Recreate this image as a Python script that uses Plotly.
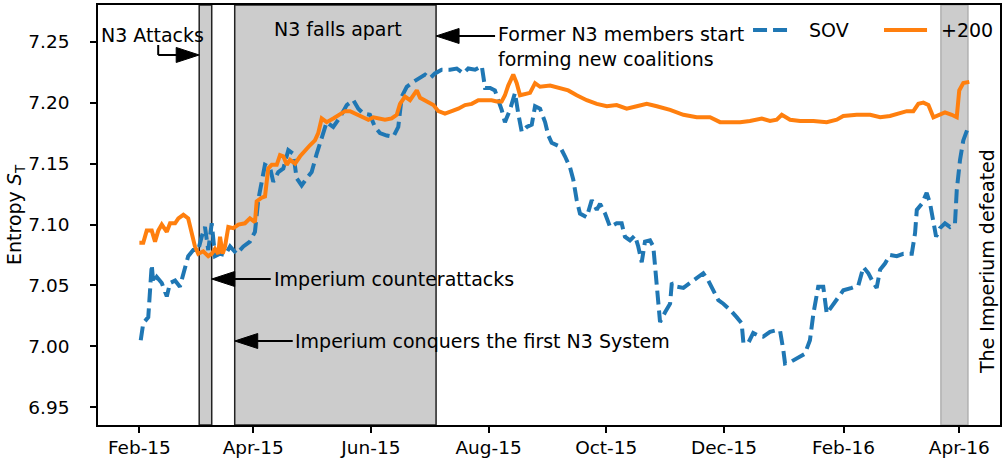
import pandas as pd
import plotly.graph_objects as go

# dates are stored as days after 1 Feb 2015
start = pd.Timestamp("2015-02-01")

sov_days = [0.7, 2.0, 4.6, 6.4, 7.2, 9.0, 11.6, 14.2, 15.9, 18.5,
            21.0, 22.8, 25.3, 27.9, 30.5, 32.3, 34.0, 35.7, 37.5, 39.2,
            41.8, 44.4, 47.0, 50.4, 53.9, 57.3, 59.9, 61.6, 63.4, 65.1,
            67.7, 69.4, 72.0, 74.6, 77.2, 79.8, 81.5, 84.1, 86.7, 89.3,
            91.9, 94.5, 97.1, 100.5, 104.0, 107.5, 110.9, 113.5, 116.1, 119.5,
            122.1, 124.7, 128.2, 131.6, 134.2, 136.0, 138.6, 142.0, 145.5, 148.1,
            150.6, 153.2, 156.7, 161.0, 164.5, 167.9, 170.5, 174.0, 177.5, 179.2,
            181.8, 184.3, 187.8, 189.5, 192.1, 194.7, 196.4, 198.2, 200.8, 203.4,
            205.1, 207.7, 210.3, 212.0, 213.7, 218.0, 220.6, 223.2, 224.9, 226.7,
            228.4, 231.9, 234.5, 237.1, 238.8, 241.4, 244.0, 247.4, 250.0, 251.7,
            254.3, 256.9, 258.6, 260.4, 262.1, 264.7, 266.4, 268.2, 269.0, 269.9,
            272.5, 275.1, 276.0, 278.5, 282.0, 285.4, 288.9, 292.3, 294.9, 297.5,
            300.1, 302.7, 306.2, 309.6, 312.2, 313.1, 315.7, 318.2, 320.8, 323.4,
            326.9, 329.5, 332.1, 333.8, 334.7, 337.3, 340.7, 345.0, 347.6, 349.4,
            351.9, 354.5, 356.3, 358.9, 361.5, 364.9, 369.3, 372.7, 375.3, 377.9,
            380.5, 382.2, 384.0, 386.5, 389.1, 392.6, 396.0, 400.4, 402.1, 403.0,
            405.6, 408.1, 409.9, 411.6, 413.0, 415.0, 417.6, 420.2, 422.8, 423.7,
            425.4, 427.1, 429.2]
sov_vals = [7.005, 7.019, 7.024, 7.067, 7.052, 7.057, 7.052, 7.041, 7.052, 7.054,
            7.049, 7.060, 7.074, 7.079, 7.079, 7.090, 7.098, 7.079, 7.101, 7.074,
            7.076, 7.075, 7.082, 7.076, 7.082, 7.086, 7.094, 7.120, 7.137, 7.149,
            7.147, 7.135, 7.143, 7.146, 7.161, 7.158, 7.138, 7.132, 7.138, 7.143,
            7.158, 7.172, 7.184, 7.180, 7.188, 7.198, 7.202, 7.195, 7.191, 7.190,
            7.180, 7.175, 7.173, 7.172, 7.180, 7.205, 7.213, 7.217, 7.221, 7.223,
            7.220, 7.224, 7.227, 7.227, 7.228, 7.224, 7.228, 7.227, 7.230, 7.212,
            7.212, 7.210, 7.194, 7.184, 7.194, 7.208, 7.191, 7.176, 7.180, 7.182,
            7.197, 7.195, 7.184, 7.173, 7.167, 7.164, 7.156, 7.147, 7.137, 7.120,
            7.109, 7.106, 7.120, 7.112, 7.117, 7.109, 7.098, 7.101, 7.101, 7.090,
            7.087, 7.091, 7.082, 7.069, 7.086, 7.087, 7.082, 7.052, 7.042, 7.020,
            7.028, 7.035, 7.052, 7.049, 7.048, 7.052, 7.057, 7.060, 7.054, 7.046,
            7.038, 7.035, 7.030, 7.024, 7.019, 7.003, 7.003, 7.011, 7.009, 7.008,
            7.012, 7.013, 7.013, 6.997, 6.986, 6.987, 6.990, 6.994, 7.005, 7.027,
            7.049, 7.049, 7.027, 7.033, 7.038, 7.046, 7.048, 7.050, 7.065, 7.060,
            7.052, 7.048, 7.063, 7.068, 7.075, 7.074, 7.076, 7.076, 7.093, 7.112,
            7.117, 7.126, 7.117, 7.101, 7.090, 7.097, 7.101, 7.098, 7.101, 7.128,
            7.153, 7.169, 7.178]

p200_days = [0.0, 2.0, 3.8, 6.4, 8.1, 9.8, 11.6, 14.2, 15.9, 18.5,
             20.2, 22.8, 25.3, 27.1, 28.8, 30.5, 33.1, 35.7, 37.5, 39.2,
             40.9, 41.8, 43.2, 44.4, 46.1, 48.7, 51.3, 54.7, 57.3, 59.9,
             60.8, 63.4, 65.1, 66.8, 68.6, 71.2, 72.9, 74.6, 76.4, 78.1,
             80.7, 83.3, 85.8, 88.4, 91.0, 92.7, 94.5, 97.1, 100.5, 104.0,
             106.6, 109.2, 111.8, 115.2, 118.7, 121.3, 123.8, 127.3, 130.8, 133.4,
             135.1, 137.7, 140.3, 142.0, 143.8, 145.5, 148.9, 152.4, 155.0, 158.4,
             161.9, 165.3, 168.8, 172.3, 175.7, 179.2, 182.6, 185.2, 187.8, 189.5,
             191.2, 193.8, 195.6, 197.3, 202.5, 205.1, 207.7, 212.9, 218.0, 222.3,
             226.7, 231.9, 237.1, 242.3, 247.4, 252.6, 257.8, 263.0, 268.2, 275.1,
             282.0, 288.9, 295.8, 301.0, 306.2, 311.4, 316.5, 322.6, 326.9, 330.4,
             333.0, 337.3, 342.5, 349.4, 356.3, 361.5, 364.9, 371.9, 378.8, 384.0,
             389.1, 394.3, 397.8, 401.2, 403.8, 406.4, 409.0, 411.6, 414.2, 417.6,
             421.1, 423.7, 425.0, 427.1, 430.2]
p200_vals = [7.085, 7.085, 7.095, 7.095, 7.086, 7.095, 7.100, 7.094, 7.101, 7.101,
             7.105, 7.108, 7.105, 7.094, 7.082, 7.076, 7.078, 7.074, 7.076, 7.080,
             7.076, 7.090, 7.076, 7.082, 7.098, 7.097, 7.100, 7.101, 7.105, 7.102,
             7.119, 7.122, 7.123, 7.146, 7.149, 7.149, 7.157, 7.156, 7.149, 7.153,
             7.150, 7.156, 7.161, 7.165, 7.169, 7.175, 7.187, 7.184, 7.187, 7.190,
             7.193, 7.193, 7.191, 7.188, 7.186, 7.188, 7.187, 7.186, 7.187, 7.190,
             7.199, 7.205, 7.202, 7.206, 7.210, 7.204, 7.201, 7.198, 7.193, 7.191,
             7.193, 7.195, 7.198, 7.199, 7.202, 7.202, 7.202, 7.201, 7.201, 7.206,
             7.214, 7.223, 7.216, 7.206, 7.208, 7.216, 7.213, 7.214, 7.212, 7.210,
             7.206, 7.202, 7.199, 7.197, 7.198, 7.195, 7.197, 7.199, 7.197, 7.194,
             7.190, 7.188, 7.188, 7.184, 7.184, 7.184, 7.185, 7.187, 7.185, 7.186,
             7.190, 7.186, 7.185, 7.185, 7.184, 7.186, 7.189, 7.190, 7.190, 7.188,
             7.189, 7.191, 7.193, 7.193, 7.199, 7.200, 7.198, 7.188, 7.190, 7.192,
             7.190, 7.188, 7.210, 7.216, 7.217]

tick_dates = ["2015-02-01", "2015-04-01", "2015-06-01", "2015-08-01",
              "2015-10-01", "2015-12-01", "2016-02-01", "2016-04-01"]
tick_text = ["Feb-15", "Apr-15", "Jun-15", "Aug-15", "Oct-15", "Dec-15", "Feb-16", "Apr-16"]

# shaded periods: (start, end, edge colour)
periods = [("2015-03-04", "2015-03-10 12:00", "#222222"),
           ("2015-03-22 10:00", "2015-07-04 19:00", "#222222"),
           ("2016-03-22 12:00", "2016-04-05 12:00", "#b0b0b0")]

FONT = "DejaVu Sans"
SOV_LINE = dict(color="#1f77b4", width=4, dash="14px,6px")
P200_LINE = dict(color="#ff7f0e", width=4)

sov_dates = start + pd.to_timedelta(sov_days, unit="D")
p200_dates = start + pd.to_timedelta(p200_days, unit="D")

fig = go.Figure()
fig.add_trace(go.Scatter(x=sov_dates, y=sov_vals, mode="lines", name="SOV",
                         line=SOV_LINE, showlegend=False))
fig.add_trace(go.Scatter(x=p200_dates, y=p200_vals, mode="lines", name="+200",
                         line=P200_LINE, showlegend=False))

for x0, x1, edge in periods:
    fig.add_shape(type="rect", xref="x", yref="paper", x0=x0, x1=x1, y0=0, y1=1,
                  fillcolor="#cccccc", line=dict(color=edge, width=1.5), layer="below")


def arrow(tip_x, tip_y, length, left=True):
    """Arrow whose head touches tip_x; shaft runs `length` px to the text."""
    sign = 1 if left else -1
    common = dict(xref="x", yref="paper", xsizemode="pixel", ysizemode="pixel",
                  xanchor=tip_x, yanchor=tip_y)
    fig.add_shape(type="line", x0=sign * 10, x1=sign * length, y0=0, y1=0,
                  line=dict(color="black", width=2), **common)
    fig.add_shape(type="path", path=f"M0,0 L{sign*23},7.5 L{sign*23},-7.5 Z",
                  fillcolor="black", line=dict(color="black", width=1), **common)


arrow("2015-07-04 19:00", 0.9262, 59, left=True)
arrow("2015-03-10 12:00", 0.3476, 59, left=True)
arrow("2015-03-22 10:00", 0.2, 58, left=True)
arrow("2015-03-04", 0.8810, 41, left=False)
fig.add_shape(type="line", xref="x", yref="paper", xsizemode="pixel", ysizemode="pixel",
              xanchor="2015-03-04", yanchor=0.8810, x0=-41, x1=-41, y0=0, y1=10,
              line=dict(color="black", width=2))

notes = [
    ("N3 Attacks", 0.0599, 0.9286, "center", 0),
    ("N3 falls apart", 0.2666, 0.9429, "center", 0),
    ("Former N3 members start<br>forming new coalitions", 0.4412, 0.90, "left", 0),
    ("Imperium counterattacks", 0.1929, 0.3476, "left", 0),
    ("Imperium conquers the first N3 System", 0.2162, 0.2, "left", 0),
    ("The Imperium defeated", 0.9856, 0.388, "center", -90),
]
for text, x, y, xa, ang in notes:
    fig.add_annotation(text=text, xref="paper", yref="paper", x=x, y=y,
                       xanchor=xa, yanchor="middle", showarrow=False, textangle=ang,
                       align="left", font=dict(family=FONT, size=19, color="black"))

# legend, top right inside the axes: (label, line style, sample start, sample end, text x)
legend_items = [("SOV", SOV_LINE, 0.7262, 0.7683, 0.7860),
                ("+200", P200_LINE, 0.8714, 0.9191, 0.9324)]
for label, style, s0, s1, tx in legend_items:
    fig.add_shape(type="line", xref="paper", yref="paper", x0=s0, x1=s1,
                  y0=0.9405, y1=0.9405, line=style)
    fig.add_annotation(text=label, xref="paper", yref="paper", x=tx, y=0.9405,
                       xanchor="left", yanchor="middle", showarrow=False,
                       font=dict(family=FONT, size=19, color="black"))

axis_common = dict(showline=True, linecolor="black", linewidth=1.5, mirror=True,
                   ticks="outside", ticklen=6, tickwidth=1.5, tickcolor="black",
                   showgrid=False, zeroline=False, automargin=False,
                   tickfont=dict(family=FONT, size=18.5, color="black"))

fig.update_layout(
    width=1002, height=463,
    margin=dict(l=98, r=2, t=5, b=38),
    plot_bgcolor="white", paper_bgcolor="white",
    font=dict(family=FONT, color="black"),
    showlegend=False,
    xaxis=dict(type="date", range=["2015-01-10 13:00", "2016-04-22 03:00"],
               tickvals=tick_dates, ticktext=tick_text, ticklabelstandoff=-1,
               **axis_common),
    yaxis=dict(range=[6.9355, 7.2801], tick0=6.95, dtick=0.05, tickformat=".2f",
               ticklabelstandoff=17,
               title=dict(text="Entropy <i>S</i><sub>T</sub>", standoff=0,
                          font=dict(family=FONT, size=19, color="black")),
               **axis_common),
)

fig.write_html("out.html", config={"displayModeBar": False},
               post_script="document.body.style.margin='0';")
